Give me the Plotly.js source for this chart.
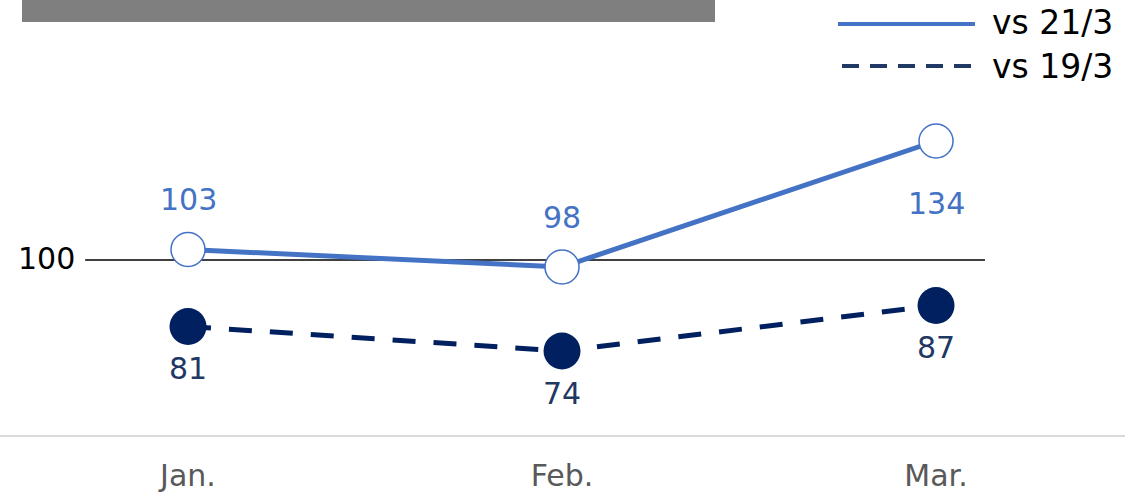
<!DOCTYPE html>
<html>
<head>
<meta charset="utf-8">
<script src="https://cdn.plot.ly/plotly-3.0.1.min.js"></script>
<style>
html,body{margin:0;padding:0;background:#fff;}
#chart{width:1125px;height:496px;}
</style>
</head>
<body>
<div id="chart"></div>
<script>
// ---- data ----
const months = ["Jan.", "Feb.", "Mar."];
const seriesNames = ["vs 21/3", "vs 19/3"];
const vs21 = [103, 98, 134];
const vs19 = [81, 74, 87];
const baseline = 100;
const vs21LabelSide = ["above", "above", "below"];
const vs19LabelSide = ["below", "below", "below"];

const FONT = "DejaVu Sans, Verdana, sans-serif";
const BLUE = "#4472C4";
const NAVY = "#002060";
const NAVY_TEXT = "#1F3864";

const traces = [
  {
    x: months, y: vs19, name: seriesNames[1], type: "scatter", mode: "lines+markers",
    line: {color: NAVY, width: 5, dash: "23px,18px"},
    marker: {size: 37, color: NAVY, line: {width: 0}},
    hoverinfo: "skip"
  },
  {
    x: months, y: vs21, name: seriesNames[0], type: "scatter", mode: "lines+markers",
    line: {color: BLUE, width: 5},
    marker: {size: 34, color: "#ffffff", line: {width: 1.5, color: BLUE}},
    hoverinfo: "skip"
  }
];

const annotations = [];
vs21.forEach((v, i) => {
  annotations.push({
    x: months[i], y: v, xref: "x", yref: "y", text: String(v), showarrow: false,
    yshift: vs21LabelSide[i] === "above" ? 50 : -62,
    font: {family: FONT, size: 30, color: BLUE}
  });
});
vs19.forEach((v, i) => {
  annotations.push({
    x: months[i], y: v, xref: "x", yref: "y", text: String(v), showarrow: false,
    yshift: vs19LabelSide[i] === "above" ? 52 : -42,
    font: {family: FONT, size: 30, color: NAVY_TEXT}
  });
});
// baseline label
annotations.push({
  x: -0.275, y: baseline, xref: "x", yref: "y", text: String(baseline), showarrow: false,
  xanchor: "right", xshift: -8, yshift: 2, font: {family: FONT, size: 30, color: "#000000"}
});
// custom legend text
annotations.push({
  x: 990, y: 22, xref: "paper", yref: "paper", text: seriesNames[0], showarrow: false,
  xanchor: "left", yanchor: "middle", font: {family: FONT, size: 33, color: "#000000"}
});
annotations.push({
  x: 990, y: 66, xref: "paper", yref: "paper", text: seriesNames[1], showarrow: false,
  xanchor: "left", yanchor: "middle", font: {family: FONT, size: 33, color: "#000000"}
});

// convert pixel coordinates for legend/banner decorations into paper coords
const W = 1125, H = 496, MT = 100, MB = 61;
const PH = H - MT - MB;
function px(x) { return x / W; }
function py(y) { return (H - MB - y) / PH; }
annotations.forEach(a => {
  if (a.xref === "paper") { a.x = px(a.x); a.y = py(a.y); }
});

const shapes = [
  // banner
  {type: "rect", xref: "paper", yref: "paper", x0: px(22), x1: px(715), y0: py(0), y1: py(22),
   fillcolor: "#7F7F7F", line: {width: 0}, layer: "above"},
  // baseline reference line
  {type: "line", xref: "x", yref: "y", x0: -0.275, x1: 2.131, y0: baseline, y1: baseline,
   line: {color: "#000000", width: 1.5}, layer: "below"},
  // legend symbols
  {type: "line", xref: "paper", yref: "paper", x0: px(838), x1: px(975), y0: py(24), y1: py(24),
   line: {color: BLUE, width: 4}},
  {type: "line", xref: "paper", yref: "paper", x0: px(842), x1: px(973), y0: py(66), y1: py(66),
   line: {color: "#203864", width: 4, dash: "17px,11px"}}
];

const layout = {
  width: W, height: H,
  margin: {l: 0, r: 0, t: MT, b: MB, pad: 0},
  paper_bgcolor: "#ffffff", plot_bgcolor: "#ffffff",
  showlegend: false,
  font: {family: FONT},
  xaxis: {
    type: "category", range: [-0.5027, 2.5053],
    showgrid: false, zeroline: false,
    showline: true, linecolor: "#D9D9D9", linewidth: 2,
    ticks: "", ticklabelstandoff: 13,
    tickfont: {family: FONT, size: 30, color: "#595959"},
    fixedrange: true
  },
  yaxis: {
    range: [50, 145.714], visible: false, fixedrange: true
  },
  shapes: shapes,
  annotations: annotations
};

Plotly.newPlot("chart", traces, layout, {displayModeBar: false, staticPlot: true});
</script>
</body>
</html>
